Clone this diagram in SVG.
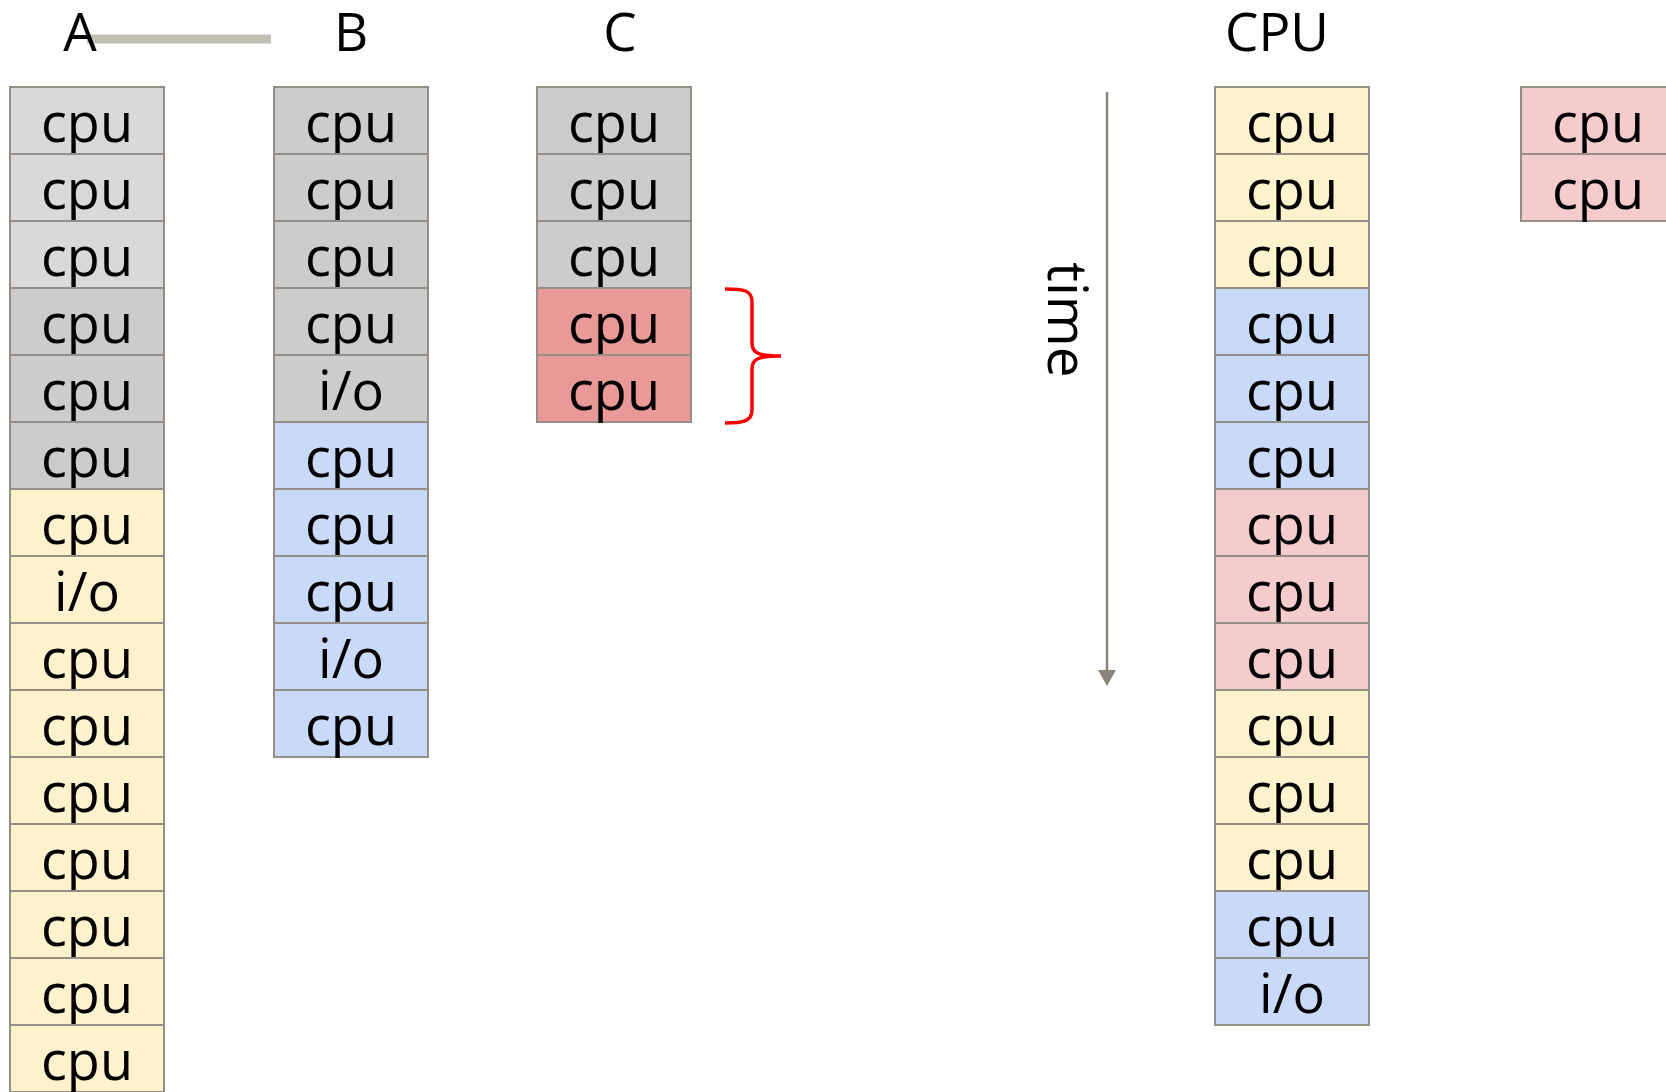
<svg xmlns="http://www.w3.org/2000/svg" width="1666" height="1092" viewBox="0 0 1666 1092">
  <style>
    text { font-family: "Open Sans", "Noto Sans", "Liberation Sans", sans-serif; fill: #000; }
    .cell rect { stroke: #958e86; stroke-width: 2; }
    .cell text { font-size: 54px; text-anchor: middle; }
    .hdr { font-size: 53px; text-anchor: middle; }
    .g1 { fill: #d9d9d9; }
    .g2 { fill: #cccccc; }
    .y { fill: #fff2cc; }
    .b { fill: #c9daf8; }
    .p { fill: #f4cccc; }
    .r { fill: #ea9999; }
  </style>

  <!-- column headers -->
  <line x1="87" y1="39" x2="271" y2="39" stroke="#c2bdb5" stroke-width="9"/>
  <text class="hdr" x="80" y="51">A</text>
  <text class="hdr" x="351" y="51">B</text>
  <text class="hdr" x="620" y="51">C</text>
  <text class="hdr" x="1277" y="51">CPU</text>

  <!-- process A -->
  <g id="colA">
    <g id="a1" class="cell"><rect class="g1" x="10" y="87" width="154" height="67"/><text x="87" y="142">cpu</text></g>
    <g id="a2" class="cell"><rect class="g1" x="10" y="154" width="154" height="67"/><text x="87" y="209">cpu</text></g>
    <g id="a3" class="cell"><rect class="g1" x="10" y="221" width="154" height="67"/><text x="87" y="276">cpu</text></g>
    <g id="a4" class="cell"><rect class="g2" x="10" y="288" width="154" height="67"/><text x="87" y="343">cpu</text></g>
    <g id="a5" class="cell"><rect class="g2" x="10" y="355" width="154" height="67"/><text x="87" y="410">cpu</text></g>
    <g id="a6" class="cell"><rect class="g2" x="10" y="422" width="154" height="67"/><text x="87" y="477">cpu</text></g>
    <g id="a7" class="cell"><rect class="y" x="10" y="489" width="154" height="67"/><text x="87" y="544">cpu</text></g>
    <g id="a8" class="cell"><rect class="y" x="10" y="556" width="154" height="67"/><text x="87" y="611">i/o</text></g>
    <g id="a9" class="cell"><rect class="y" x="10" y="623" width="154" height="67"/><text x="87" y="678">cpu</text></g>
    <g id="a10" class="cell"><rect class="y" x="10" y="690" width="154" height="67"/><text x="87" y="745">cpu</text></g>
    <g id="a11" class="cell"><rect class="y" x="10" y="757" width="154" height="67"/><text x="87" y="812">cpu</text></g>
    <g id="a12" class="cell"><rect class="y" x="10" y="824" width="154" height="67"/><text x="87" y="879">cpu</text></g>
    <g id="a13" class="cell"><rect class="y" x="10" y="891" width="154" height="67"/><text x="87" y="946">cpu</text></g>
    <g id="a14" class="cell"><rect class="y" x="10" y="958" width="154" height="67"/><text x="87" y="1013">cpu</text></g>
    <g id="a15" class="cell"><rect class="y" x="10" y="1025" width="154" height="67"/><text x="87" y="1080">cpu</text></g>
  </g>

  <!-- process B -->
  <g id="colB">
    <g id="b1" class="cell"><rect class="g2" x="274" y="87" width="154" height="67"/><text x="351" y="142">cpu</text></g>
    <g id="b2" class="cell"><rect class="g2" x="274" y="154" width="154" height="67"/><text x="351" y="209">cpu</text></g>
    <g id="b3" class="cell"><rect class="g2" x="274" y="221" width="154" height="67"/><text x="351" y="276">cpu</text></g>
    <g id="b4" class="cell"><rect class="g2" x="274" y="288" width="154" height="67"/><text x="351" y="343">cpu</text></g>
    <g id="b5" class="cell"><rect class="g2" x="274" y="355" width="154" height="67"/><text x="351" y="410">i/o</text></g>
    <g id="b6" class="cell"><rect class="b" x="274" y="422" width="154" height="67"/><text x="351" y="477">cpu</text></g>
    <g id="b7" class="cell"><rect class="b" x="274" y="489" width="154" height="67"/><text x="351" y="544">cpu</text></g>
    <g id="b8" class="cell"><rect class="b" x="274" y="556" width="154" height="67"/><text x="351" y="611">cpu</text></g>
    <g id="b9" class="cell"><rect class="b" x="274" y="623" width="154" height="67"/><text x="351" y="678">i/o</text></g>
    <g id="b10" class="cell"><rect class="b" x="274" y="690" width="154" height="67"/><text x="351" y="745">cpu</text></g>
  </g>

  <!-- process C -->
  <g id="colC">
    <g id="c1" class="cell"><rect class="g2" x="537" y="87" width="154" height="67"/><text x="614" y="142">cpu</text></g>
    <g id="c2" class="cell"><rect class="g2" x="537" y="154" width="154" height="67"/><text x="614" y="209">cpu</text></g>
    <g id="c3" class="cell"><rect class="g2" x="537" y="221" width="154" height="67"/><text x="614" y="276">cpu</text></g>
    <g id="c4" class="cell"><rect class="r" x="537" y="288" width="154" height="67"/><text x="614" y="343">cpu</text></g>
    <g id="c5" class="cell"><rect class="r" x="537" y="355" width="154" height="67"/><text x="614" y="410">cpu</text></g>
  </g>

  <!-- brace around the last two bursts of C -->
  <g id="brace">
    <path d="M725,289 C744,289 752,290 752,302 L752,343 C752,353 758,356 781,356 M781,356 C758,356 752,359 752,369 L752,410 C752,421 744,423 725,423" fill="none" stroke="#ff0000" stroke-width="3.5"/>
  </g>

  <!-- CPU schedule -->
  <g id="colCPU">
    <g id="s1" class="cell"><rect class="y" x="1215" y="87" width="154" height="67"/><text x="1292" y="142">cpu</text></g>
    <g id="s2" class="cell"><rect class="y" x="1215" y="154" width="154" height="67"/><text x="1292" y="209">cpu</text></g>
    <g id="s3" class="cell"><rect class="y" x="1215" y="221" width="154" height="67"/><text x="1292" y="276">cpu</text></g>
    <g id="s4" class="cell"><rect class="b" x="1215" y="288" width="154" height="67"/><text x="1292" y="343">cpu</text></g>
    <g id="s5" class="cell"><rect class="b" x="1215" y="355" width="154" height="67"/><text x="1292" y="410">cpu</text></g>
    <g id="s6" class="cell"><rect class="b" x="1215" y="422" width="154" height="67"/><text x="1292" y="477">cpu</text></g>
    <g id="s7" class="cell"><rect class="p" x="1215" y="489" width="154" height="67"/><text x="1292" y="544">cpu</text></g>
    <g id="s8" class="cell"><rect class="p" x="1215" y="556" width="154" height="67"/><text x="1292" y="611">cpu</text></g>
    <g id="s9" class="cell"><rect class="p" x="1215" y="623" width="154" height="67"/><text x="1292" y="678">cpu</text></g>
    <g id="s10" class="cell"><rect class="y" x="1215" y="690" width="154" height="67"/><text x="1292" y="745">cpu</text></g>
    <g id="s11" class="cell"><rect class="y" x="1215" y="757" width="154" height="67"/><text x="1292" y="812">cpu</text></g>
    <g id="s12" class="cell"><rect class="y" x="1215" y="824" width="154" height="67"/><text x="1292" y="879">cpu</text></g>
    <g id="s13" class="cell"><rect class="b" x="1215" y="891" width="154" height="67"/><text x="1292" y="946">cpu</text></g>
    <g id="s14" class="cell"><rect class="b" x="1215" y="958" width="154" height="67"/><text x="1292" y="1013">i/o</text></g>
  </g>

  <!-- pending bursts -->
  <g id="colPending">
    <g id="q1" class="cell"><rect class="p" x="1521" y="87" width="154" height="67"/><text x="1598" y="142">cpu</text></g>
    <g id="q2" class="cell"><rect class="p" x="1521" y="154" width="154" height="67"/><text x="1598" y="209">cpu</text></g>
  </g>

  <!-- time axis -->
  <g id="connectors">
    <line x1="1107" y1="92" x2="1107" y2="672" stroke="#8c857b" stroke-width="2.5"/>
    <path d="M1098,670 L1116,670 L1107,686 Z" fill="#8c857b"/>
  </g>
  <g id="timeLabel">
    <text transform="translate(1048,320) rotate(90)" font-size="55" text-anchor="middle">time</text>
  </g>
</svg>
